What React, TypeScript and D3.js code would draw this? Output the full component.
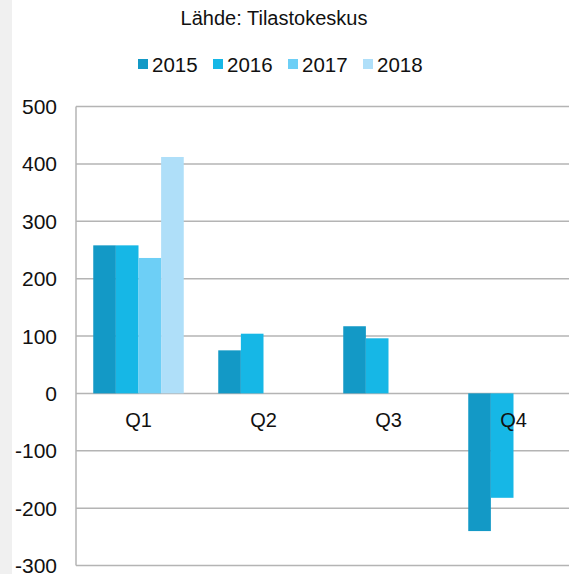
import React from 'react';
import * as d3 from 'd3';

const width = 569;
const height = 574;

const quarters = ['Q1', 'Q2', 'Q3', 'Q4'];
const years = ['2015', '2016', '2017', '2018'];
// values per year, one entry per quarter (null = no data)
const v2015 = [258, 75, 117, -240];
const v2016 = [258, 104, 96, -182];
const v2017 = [236, null, null, null];
const v2018 = [412, null, null, null];
const yTicks = [500, 400, 300, 200, 100, 0, -100, -200, -300];
const colors = ['#1399c6', '#16b7e6', '#6dcff6', '#afdff9'];

const series = [v2015, v2016, v2017, v2018];

export default function App() {
  const margin = { top: 106.5, left: 76, bottom: 565.5 };
  const font = '"Liberation Sans", Arial, sans-serif';

  const y = d3.scaleLinear().domain([-300, 500]).range([margin.bottom, margin.top]);
  const x0 = d3.scaleBand().domain(quarters).range([76, 576]).paddingInner(0.276).paddingOuter(0.138);
  const x1 = d3.scaleBand().domain(years).range([0, x0.bandwidth()]);

  // legend positions
  const legendX = d3.scalePoint().domain(years).range([138, 363]);

  return (
    <svg width={width} height={height} style={{ position: 'absolute', left: 0, top: 0 }} fontFamily={font}>
      <rect x={0} y={0} width={width} height={height} fill="#fff" />
      <rect x={0} y={0} width={12} height={height} fill="#f0f0f0" />

      <text x={274} y={25} textAnchor="middle" fontSize={20} fill="#111">Lähde: Tilastokeskus</text>

      {/* legend */}
      {years.map((yr, i) => (
        <g key={yr}>
          <rect x={legendX(yr)} y={59} width={10} height={10} fill={colors[i]} />
          <text x={(legendX(yr) as number) + 14} y={72} fontSize={20.5} fill="#111">{yr}</text>
        </g>
      ))}

      {/* grid */}
      {yTicks.map(t => (
        <g key={t}>
          <line x1={margin.left} x2={width} y1={y(t)} y2={y(t)} stroke="#b4b4b4" strokeWidth={1.5} />
          <text x={57} y={y(t)} dy="0.36em" textAnchor="end" fontSize={21} fill="#111">{t}</text>
        </g>
      ))}
      <line x1={margin.left} x2={margin.left} y1={margin.top} y2={margin.bottom} stroke="#b4b4b4" strokeWidth={1.5} />

      {/* bars */}
      {quarters.map((q, qi) => (
        <g key={q} transform={`translate(${x0(q)},0)`}>
          {series.map((s, si) => {
            const val = s[qi];
            if (val == null) return null;
            return (
              <rect
                key={si}
                x={x1(years[si])}
                y={y(Math.max(0, val))}
                width={x1.bandwidth()}
                height={Math.abs(y(val) - y(0))}
                fill={colors[si]}
              />
            );
          })}
        </g>
      ))}

      {/* category labels */}
      {quarters.map(q => (
        <text key={q} x={(x0(q) as number) + x0.bandwidth() / 2} y={427} textAnchor="middle" fontSize={20} fill="#111">{q}</text>
      ))}
    </svg>
  );
}
